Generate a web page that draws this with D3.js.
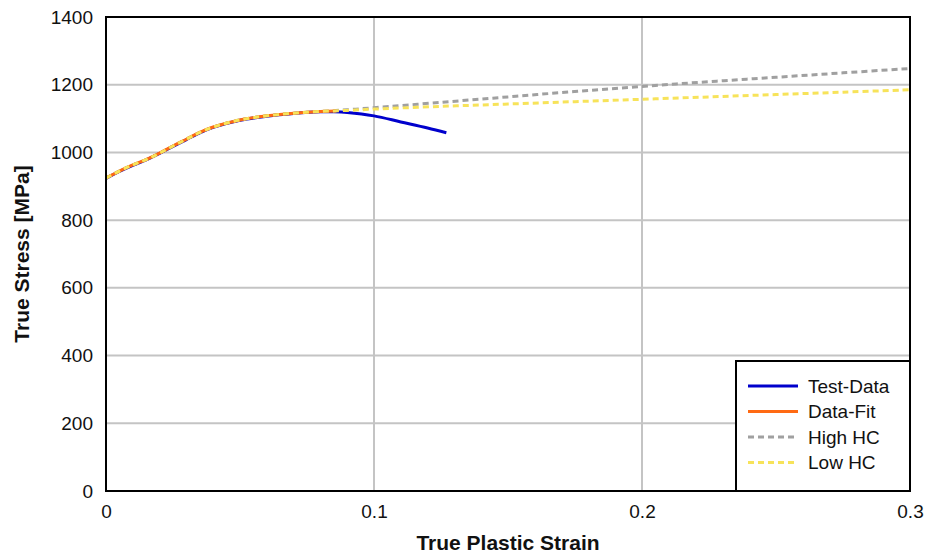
<!DOCTYPE html>
<html><head><meta charset="utf-8">
<script src="https://cdn.jsdelivr.net/npm/d3@7"></script>
<style>body{margin:0;background:#fff;}text{font-family:"Liberation Sans",Arial,sans-serif;}</style>
</head><body><svg id="c" width="928" height="555"></svg>
<script>
const xTicks = [0, 0.1, 0.2, 0.3];
const yTicks = [0, 200, 400, 600, 800, 1000, 1200, 1400];

const testX = [0, 0.005, 0.01, 0.015, 0.02, 0.025, 0.03, 0.035, 0.04, 0.05, 0.06, 0.07, 0.08, 0.085, 0.09, 0.1, 0.11, 0.12, 0.127];
const testY = [923, 944, 962, 978, 997, 1018, 1038, 1058, 1074, 1095, 1107, 1115, 1120, 1120, 1118, 1108, 1090, 1072, 1058];

const fitX = [0, 0.005, 0.01, 0.015, 0.02, 0.025, 0.03, 0.035, 0.04, 0.05, 0.06, 0.07, 0.08, 0.086];
const fitY = [924, 945, 963, 979, 998, 1019, 1039, 1059, 1075, 1096, 1108, 1116, 1121, 1122];

const hcX = [0, 0.005, 0.01, 0.015, 0.02, 0.025, 0.03, 0.035, 0.04, 0.05, 0.06, 0.07, 0.08, 0.09, 0.1, 0.125, 0.15, 0.175, 0.2, 0.225, 0.25, 0.275, 0.3];
const highY = [924, 945, 963, 979, 998, 1019, 1039, 1059, 1075, 1096, 1108, 1116, 1121, 1126, 1132, 1148, 1164, 1180, 1195, 1209, 1222, 1235, 1248];
const lowY = [924, 945, 963, 979, 998, 1019, 1039, 1059, 1075, 1096, 1108, 1116, 1121, 1124, 1128, 1136, 1143, 1150, 1157, 1164, 1171, 1178, 1185];

const seriesNames = ["Test-Data", "Data-Fit", "High HC", "Low HC"];
const colors = ["#0000cc", "#ff6a13", "#a0a0a0", "#f7e35a"];
const dashes = [null, null, "6,4", "6,4"];

const svg = d3.select("#c");
const m = {l:106, r:910, t:17, b:491};
const x = d3.scaleLinear().domain([0, 0.3]).range([m.l, m.r]);
const y = d3.scaleLinear().domain([0, 1400]).range([m.b, m.t]);

// grid
svg.append("g").selectAll("line").data(xTicks.slice(1, -1)).join("line")
  .attr("x1", d => x(d)).attr("x2", d => x(d)).attr("y1", m.t).attr("y2", m.b)
  .attr("stroke", "#c4c4c4").attr("stroke-width", 2);
svg.append("g").selectAll("line").data(yTicks.slice(1, -1)).join("line")
  .attr("y1", d => y(d)).attr("y2", d => y(d)).attr("x1", m.l).attr("x2", m.r)
  .attr("stroke", "#c4c4c4").attr("stroke-width", 2);

// axes tick labels
const xa = svg.append("g").attr("transform", `translate(0,${m.b})`)
  .call(d3.axisBottom(x).tickValues(xTicks).tickFormat(d => d === 0 ? "0" : d3.format(".1f")(d)).tickSize(0).tickPadding(14));
xa.select(".domain").remove();
xa.selectAll("text").attr("font-size", 19).attr("fill", "#111").style("font-family", "Liberation Sans, Arial");
const ya = svg.append("g").attr("transform", `translate(${m.l},0)`)
  .call(d3.axisLeft(y).tickValues(yTicks).tickFormat(d3.format("d")).tickSize(0).tickPadding(13));
ya.select(".domain").remove();
ya.selectAll("text").attr("font-size", 19).attr("fill", "#111").style("font-family", "Liberation Sans, Arial");

// lines
const line = d3.line().x(d => x(d[0])).y(d => y(d[1])).curve(d3.curveCatmullRom.alpha(0.5));
const sets = [
  d3.zip(testX, testY),
  d3.zip(fitX, fitY),
  d3.zip(hcX, highY),
  d3.zip(hcX, lowY)
];
const order = [0, 2, 1, 3];
order.forEach(i => {
  svg.append("path").datum(sets[i]).attr("d", line)
    .attr("fill", "none").attr("stroke", colors[i]).attr("stroke-width", 3)
    .attr("stroke-dasharray", dashes[i]);
});

// frame
svg.append("rect").attr("x", m.l).attr("y", m.t).attr("width", m.r - m.l).attr("height", m.b - m.t)
  .attr("fill", "none").attr("stroke", "#000").attr("stroke-width", 2);

// axis titles
svg.append("text").attr("x", (m.l + m.r) / 2).attr("y", 550).attr("text-anchor", "middle")
  .attr("font-size", 21).attr("font-weight", "bold").attr("fill", "#111").text("True Plastic Strain");
svg.append("text").attr("transform", `translate(29,${(m.t + m.b) / 2}) rotate(-90)`).attr("text-anchor", "middle")
  .attr("font-size", 21).attr("font-weight", "bold").attr("fill", "#111").text("True Stress [MPa]");

// legend
const lg = svg.append("g");
lg.append("rect").attr("x", 736).attr("y", 361).attr("width", 174).attr("height", 130)
  .attr("fill", "#fff").attr("stroke", "#000").attr("stroke-width", 2);
seriesNames.forEach((n, i) => {
  const yy = 386 + i * 25.5;
  lg.append("line").attr("x1", 748).attr("x2", 798).attr("y1", yy).attr("y2", yy)
    .attr("stroke", colors[i]).attr("stroke-width", 3).attr("stroke-dasharray", dashes[i]);
  lg.append("text").attr("x", 808).attr("y", yy + 6.5).attr("font-size", 19).attr("fill", "#111").text(n);
});
</script></body></html>
